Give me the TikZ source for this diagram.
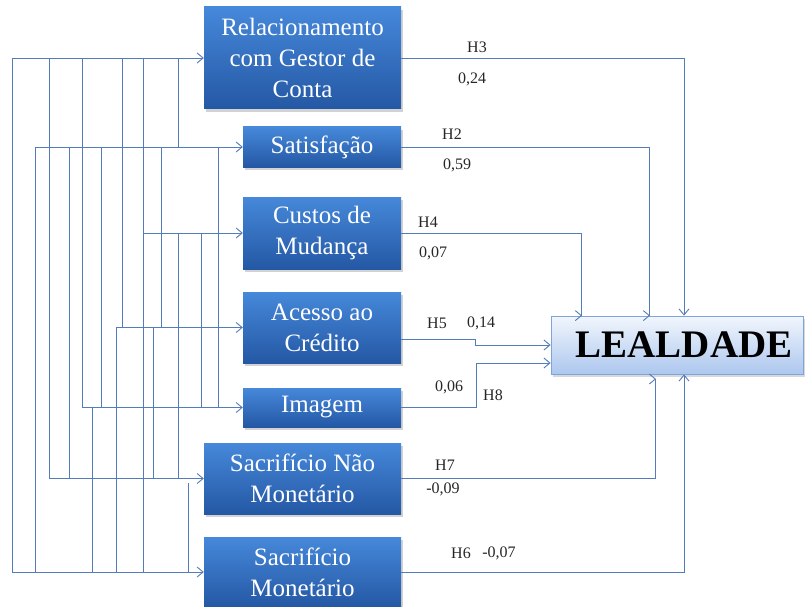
\documentclass[tikz,border=0pt]{standalone}
\usepackage{fontspec}
\setmainfont{Liberation Serif}
\usetikzlibrary{arrows.meta,shadows}
\definecolor{lineblue}{RGB}{84,124,186}
\definecolor{boxtop}{RGB}{70,136,218}
\definecolor{boxbot}{RGB}{36,88,164}
\definecolor{leatop}{RGB}{242,246,253}
\definecolor{leabot}{RGB}{172,199,238}
\definecolor{leaedge}{RGB}{128,163,218}
\begin{document}
\begin{tikzpicture}[x=1pt,y=-1pt,
  blk/.style={inner sep=0pt, top color=boxtop, bottom color=boxbot, text=white, align=center,
    font=\fontsize{25}{31}\selectfont,
    drop shadow={shadow xshift=2pt,shadow yshift=-3pt,opacity=0.35}},
  leabox/.style={inner sep=0pt, top color=leatop, bottom color=leabot, draw=leaedge, line width=0.8pt,
    font=\fontsize{39}{41}\selectfont\bfseries, text=black,
    drop shadow={shadow xshift=2pt,shadow yshift=-3pt,opacity=0.3}},
  conn/.style={draw=lineblue, line width=0.9pt},
  arr/.style={conn, -{Straight Barb[length=6pt,width=10pt]}},
  lab/.style={font=\fontsize{16}{18}\selectfont, inner sep=0pt, text=black!85}]
\useasboundingbox (0,0) rectangle (808,607);
\fill[white] (0,0) rectangle (808,607);

% boxes
\node[blk, minimum width=197pt, minimum height=102pt] (rel) at (302.5,58) {Relacionamento\\com Gestor de\\Conta};
\node[blk, minimum width=158pt, minimum height=40pt] (sat) at (322,147) {Satisfação};
\node[blk, minimum width=158pt, minimum height=72pt] (cus) at (322,233) {Custos de\\Mudança};
\node[blk, minimum width=158pt, minimum height=71pt] (acc) at (322,327.5) {Acesso ao\\Crédito};
\node[blk, minimum width=158pt, minimum height=39pt] (img) at (322,407.5) {Imagem};
\node[blk, minimum width=197pt, minimum height=71pt] (snm) at (302.5,478.5) {Sacrifício Não\\Monetário};
\node[blk, minimum width=197pt, minimum height=70pt] (sm) at (302.5,572) {Sacrifício\\Monetário};
\node[leabox, minimum width=252pt, minimum height=58pt] (lea) at (677,345) {\hspace*{14pt}LEALDADE};

% rail positions
\foreach \x in {12,35,49,69,82,92,101,116,122,143,153,161,178,188,201,218,581,649,655,684}
  \coordinate (x\x) at (\x,0);
\coordinate (s188) at (188,483);
\coordinate (e655) at (655,379);

% left vertical rails
\draw[conn] (rel.west -| x12) -- (sm.west -| x12);
\draw[conn] (sat.west -| x35) -- (sm.west -| x35);
\draw[conn] (rel.west -| x49) -- (snm.west -| x49);
\draw[conn] (sat.west -| x69) -- (snm.west -| x69);
\draw[conn] (rel.west -| x82) -- (img.west -| x82);
\draw[conn] (img.west -| x92) -- (sm.west -| x92);
\draw[conn] (sat.west -| x101) -- (img.west -| x101);
\draw[conn] (acc.west -| x116) -- (sm.west -| x116);
\draw[conn] (rel.west -| x122) -- (acc.west -| x122);
\draw[conn] (rel.west -| x143) -- (sm.west -| x143);
\draw[conn] (acc.west -| x153) -- (snm.west -| x153);
\draw[conn] (sat.west -| x161) -- (acc.west -| x161);
\draw[conn] (rel.west -| x178) -- (sat.west -| x178);
\draw[conn] (cus.west -| x178) -- (snm.west -| x178);
\draw[conn] (s188) -- (sm.west -| x188);
\draw[conn] (cus.west -| x201) -- (img.west -| x201);
\draw[conn] (sat.west -| x218) -- (img.west -| x218);

% left arrows into boxes
\draw[arr] (rel.west -| x12) -- (rel.west);
\draw[arr] (sat.west -| x35) -- (sat.west);
\draw[arr] (cus.west -| x143) -- (cus.west);
\draw[arr] (acc.west -| x116) -- (acc.west);
\draw[arr] (img.west -| x82) -- (img.west);
\draw[arr] (snm.west -| x49) -- (snm.west);
\draw[arr] (sm.west -| x12) -- (sm.west);

% right connectors to LEALDADE
\draw[arr] (rel.east) -| (lea.north -| x684);
\draw[arr] (sat.east) -| (lea.north -| x649) -- ++(1,0);
\draw[arr] (cus.east) -| (lea.north -| x581) -- ++(1,0);
\draw[arr] ([yshift=-12pt]acc.east) -- ++(74,0) |- (lea.west);
\draw[arr] (img.east) -- ++(75,0) |- ([yshift=-18pt]lea.west);
\draw[arr] (snm.east) -| (e655) -- ++(1,0);
\draw[arr] (sm.east) -| (lea.south -| x684);

% labels
\node[lab] (h3) at (477,47) {H3};
\node[lab] (c3) at (472,79) {0,24};
\node[lab] (h2) at (452,134) {H2};
\node[lab] (c2) at (457,165) {0,59};
\node[lab] (h4) at (428,222) {H4};
\node[lab] (c4) at (433,253) {0,07};
\node[lab] (h5) at (437,323) {H5};
\node[lab] (c5) at (481,323) {0,14};
\node[lab] (c8) at (449,387) {0,06};
\node[lab] (h8) at (493,395) {H8};
\node[lab] (h7) at (445,465) {H7};
\node[lab] (c7) at (443,489) {-0,09};
\node[lab] (h6) at (461,553) {H6};
\node[lab] (c6) at (499,553) {-0,07};
\end{tikzpicture}
\end{document}
